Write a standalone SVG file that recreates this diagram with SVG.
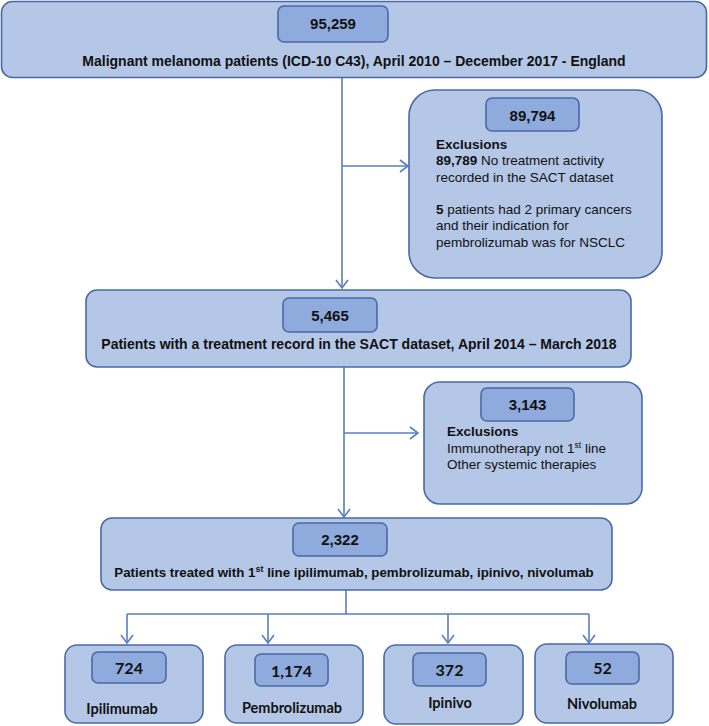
<svg xmlns="http://www.w3.org/2000/svg" width="709" height="726" viewBox="0 0 709 726">
<defs>
<style>
.outer{fill:#b4c7e7;stroke:#4a6aa6;stroke-width:1.6}
.inner{fill:#8faadc;stroke:#4a6aa6;stroke-width:1.6}
.b{font-weight:bold}
.num{font-family:"Liberation Sans",Arial,sans-serif;font-weight:bold;font-size:15px;fill:#111;text-anchor:middle}
.lbl{font-family:"Liberation Sans",Arial,sans-serif;font-weight:bold;font-size:14px;fill:#111;text-anchor:middle}
.ex{font-family:"Liberation Sans",Arial,sans-serif;font-size:13.5px;fill:#111}
.bn{font-family:Lato,"Liberation Sans",sans-serif;font-weight:bold;font-size:16px;fill:#111;text-anchor:middle}
.bl{font-family:Lato,"Liberation Sans",sans-serif;font-weight:bold;font-size:14.5px;fill:#111;text-anchor:middle}
.c{fill:none;stroke:#5a7ec2;stroke-width:1.6}
</style>
<marker id="arr" viewBox="0 0 10 14" refX="9" refY="7" markerWidth="10" markerHeight="14" markerUnits="userSpaceOnUse" orient="auto">
<path d="M1,1 L9,7 L1,13" fill="none" stroke="#5a7ec2" stroke-width="1.6"/>
</marker>
</defs>
<rect width="709" height="726" fill="#ffffff"/>

<g id="connectors">
<path class="c" d="M342,78 V288" marker-end="url(#arr)"/>
<path class="c" d="M342,166 H408" marker-end="url(#arr)"/>
<path class="c" d="M344,367 V517" marker-end="url(#arr)"/>
<path class="c" d="M344,433 H418" marker-end="url(#arr)"/>
<path class="c" d="M346,590 V614 M127,614 H589"/>
<path class="c" d="M127,614 V643" marker-end="url(#arr)"/>
<path class="c" d="M268,614 V643" marker-end="url(#arr)"/>
<path class="c" d="M448,614 V643" marker-end="url(#arr)"/>
<path class="c" d="M589,614 V643" marker-end="url(#arr)"/>
</g>

<g id="node-total">
<rect class="outer" x="1.5" y="1.5" width="705" height="76" rx="11"/>
<rect class="inner" x="278" y="6" width="110" height="36" rx="6"/>
<text class="num" x="333" y="29">95,259</text>
<text class="lbl" x="354" y="66">Malignant melanoma patients (ICD-10 C43), April 2010 – December 2017 - England</text>
</g>

<g id="node-exclusions-1">
<rect class="outer" x="409" y="90" width="253" height="188" rx="26"/>
<rect class="inner" x="486" y="98" width="93" height="33" rx="6"/>
<text class="num" x="532.5" y="121">89,794</text>
<text class="ex" x="436" y="149"><tspan class="b">Exclusions</tspan></text>
<text class="ex" x="436" y="165"><tspan class="b">89,789</tspan> No treatment activity</text>
<text class="ex" x="436" y="182">recorded in the SACT dataset</text>
<text class="ex" x="436" y="214"><tspan class="b">5</tspan> patients had 2 primary cancers</text>
<text class="ex" x="436" y="230">and their indication for</text>
<text class="ex" x="436" y="247">pembrolizumab was for NSCLC</text>
</g>

<g id="node-sact">
<rect class="outer" x="86" y="290" width="545" height="77" rx="11"/>
<rect class="inner" x="283" y="298" width="94" height="34" rx="6"/>
<text class="num" x="330" y="321">5,465</text>
<text class="lbl" x="359" y="349">Patients with a treatment record in the SACT dataset, April 2014 – March 2018</text>
</g>

<g id="node-exclusions-2">
<rect class="outer" x="424" y="382" width="218" height="122" rx="16"/>
<rect class="inner" x="481" y="388" width="93" height="33" rx="6"/>
<text class="num" x="527.5" y="410">3,143</text>
<text class="ex" x="447" y="436"><tspan class="b">Exclusions</tspan></text>
<text class="ex" x="447" y="453">Immunotherapy not 1<tspan style="font-size:8.5px" dy="-5">st</tspan><tspan dy="5"> line</tspan></text>
<text class="ex" x="447" y="469">Other systemic therapies</text>
</g>

<g id="node-first-line">
<rect class="outer" x="101" y="518" width="511" height="72" rx="11"/>
<rect class="inner" x="293" y="523" width="94" height="33" rx="6"/>
<text class="num" x="340" y="545">2,322</text>
<text class="lbl" x="354" y="577" style="font-size:13.3px">Patients treated with 1<tspan style="font-size:9px" dy="-5">st</tspan><tspan dy="5"> line ipilimumab, pembrolizumab, ipinivo, nivolumab</tspan></text>
</g>

<g id="node-ipilimumab">
<rect class="outer" x="65" y="645" width="138" height="78" rx="12"/>
<rect class="inner" x="92" y="652" width="74" height="31" rx="6"/>
<text class="bn" x="129" y="674">724</text>
<text class="bl" x="122" y="714">Ipilimumab</text>
</g>

<g id="node-pembrolizumab">
<rect class="outer" x="225" y="645" width="138" height="78" rx="12"/>
<rect class="inner" x="255" y="654" width="73" height="32" rx="6"/>
<text class="bn" x="291.5" y="677">1,174</text>
<text class="bl" x="292" y="713">Pembrolizumab</text>
</g>

<g id="node-ipinivo">
<rect class="outer" x="384" y="645" width="139" height="79" rx="12"/>
<rect class="inner" x="413" y="653" width="73" height="33" rx="6"/>
<text class="bn" x="449.5" y="676">372</text>
<text class="bl" x="450" y="708">Ipinivo</text>
</g>

<g id="node-nivolumab">
<rect class="outer" x="535" y="644" width="138" height="79" rx="12"/>
<rect class="inner" x="566" y="652" width="73" height="32" rx="6"/>
<text class="bn" x="602.5" y="674">52</text>
<text class="bl" x="602" y="709">Nivolumab</text>
</g>
</svg>
